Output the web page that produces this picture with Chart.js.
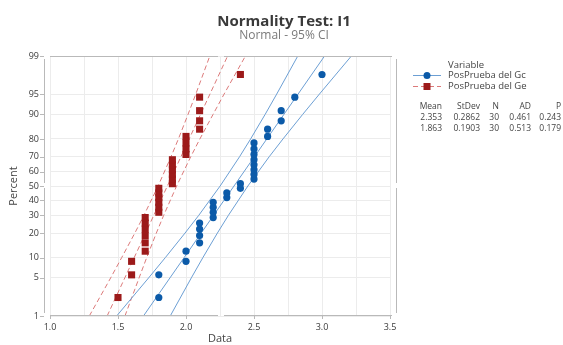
<!DOCTYPE html>
<html>
<head>
<meta charset="utf-8">
<script src="https://cdn.jsdelivr.net/npm/chart.js@4.4.1/dist/chart.umd.min.js"></script>
<style>
  html, body { margin: 0; padding: 0; background: #fff; }
  #wrap { width: 563px; height: 345px; position: relative; }
</style>
</head>
<body>
<div id="wrap"><canvas id="chart"></canvas></div>
<script>
// plotting positions (median ranks, %) shared by both sorted samples
const plotPercent = [2.30, 5.59, 8.88, 12.17, 15.46, 18.75, 22.04, 25.33, 28.62, 31.91,
                     35.20, 38.49, 41.78, 45.07, 48.36, 51.64, 54.93, 58.22, 61.51, 64.80,
                     68.09, 71.38, 74.67, 77.96, 81.25, 84.54, 87.83, 91.12, 94.41, 97.70];
const gcValues = [1.8, 1.8, 2.0, 2.0, 2.1, 2.1, 2.1, 2.1, 2.2, 2.2, 2.2, 2.2, 2.3, 2.3, 2.4,
                  2.4, 2.5, 2.5, 2.5, 2.5, 2.5, 2.5, 2.5, 2.5, 2.6, 2.6, 2.7, 2.7, 2.8, 3.0];
const geValues = [1.5, 1.6, 1.6, 1.7, 1.7, 1.7, 1.7, 1.7, 1.7, 1.8, 1.8, 1.8, 1.8, 1.8, 1.8,
                  1.9, 1.9, 1.9, 1.9, 1.9, 1.9, 2.0, 2.0, 2.0, 2.0, 2.1, 2.1, 2.1, 2.1, 2.4];

// fitted line and 95% CI bands, read at these percent levels
const bandPercent = [1, 5, 10, 20, 30, 50, 70, 80, 90, 95, 99];
const gcFit   = [1.687, 1.882, 1.986, 2.112, 2.203, 2.353, 2.503, 2.594, 2.720, 2.824, 3.019];
const gcLower = [1.490, 1.725, 1.848, 1.993, 2.094, 2.251, 2.394, 2.475, 2.582, 2.667, 2.822];
const gcUpper = [1.884, 2.039, 2.124, 2.231, 2.312, 2.455, 2.612, 2.713, 2.858, 2.981, 3.216];
const geFit   = [1.420, 1.550, 1.619, 1.703, 1.763, 1.863, 1.963, 2.023, 2.107, 2.176, 2.306];
const geLower = [1.289, 1.446, 1.527, 1.624, 1.691, 1.795, 1.890, 1.944, 2.015, 2.072, 2.175];
const geUpper = [1.551, 1.655, 1.711, 1.782, 1.836, 1.931, 2.035, 2.102, 2.199, 2.280, 2.437];

const seriesNames = ['PosPrueba del Gc', 'PosPrueba del Ge'];
const percentTicks = [1, 5, 10, 20, 30, 40, 50, 60, 70, 80, 90, 95, 99];
const xLabelValues = [1.0, 1.5, 2.0, 2.5, 3.0, 3.5];

const statHeaders = ['Mean', 'StDev', 'N', 'AD', 'P'];
const statMean  = ['2.353', '1.863'];
const statStDev = ['0.2862', '0.1903'];
const statN     = ['30', '30'];
const statAD    = ['0.461', '0.513'];
const statP     = ['0.243', '0.179'];

const BLUE = '#0b5aa8';
const BLUE_LINE = '#6c9fd4';
const RED = '#9c1a1a';
const RED_LINE = '#dc7a7a';
const FONT = "'Open Sans', sans-serif";

// inverse normal CDF (Acklam)
function probit(p) {
    const a = [-39.69683028665376, 220.9460984245205, -275.9285104469687, 138.3577518672690, -30.66479806614716, 2.506628277459239];
    const b = [-54.47609879822406, 161.5858368580409, -155.6989798598866, 66.80131188771972, -13.28068155288572];
    const c = [-0.007784894002430293, -0.3223964580411365, -2.400758277161838, -2.549732539343734, 4.374664141464968, 2.938163982698783];
    const d = [0.007784695709041462, 0.3224671290700398, 2.445134137142996, 3.754408661907416];
    const pl = 0.02425;
    if (p < pl) {
        const q = Math.sqrt(-2 * Math.log(p));
        return (((((c[0]*q+c[1])*q+c[2])*q+c[3])*q+c[4])*q+c[5]) / ((((d[0]*q+d[1])*q+d[2])*q+d[3])*q+1);
    }
    if (p > 1 - pl) {
        const q = Math.sqrt(-2 * Math.log(1 - p));
        return -(((((c[0]*q+c[1])*q+c[2])*q+c[3])*q+c[4])*q+c[5]) / ((((d[0]*q+d[1])*q+d[2])*q+d[3])*q+1);
    }
    const q = p - 0.5, r = q * q;
    return (((((a[0]*r+a[1])*r+a[2])*r+a[3])*r+a[4])*r+a[5])*q / (((((b[0]*r+b[1])*r+b[2])*r+b[3])*r+b[4])*r+1);
}

function normCdf(z) {
    const t = 1 / (1 + 0.2316419 * Math.abs(z));
    const poly = t * (0.319381530 + t * (-0.356563782 + t * (1.781477937 + t * (-1.821255978 + t * 1.330274429))));
    const v = 1 - Math.exp(-z * z / 2) / Math.sqrt(2 * Math.PI) * poly;
    return z >= 0 ? v : 1 - v;
}

// normal probability axis (values in percent)
class ProbabilityScale extends Chart.LinearScale {
    determineDataLimits() {
        this.min = this.options.min;
        this.max = this.options.max;
    }
    buildTicks() {
        return percentTicks.map(v => ({ value: v }));
    }
    getPixelForValue(value) {
        const lo = probit(this.min / 100), hi = probit(this.max / 100);
        return this.getPixelForDecimal((probit(value / 100) - lo) / (hi - lo));
    }
    getValueForPixel(pixel) {
        const lo = probit(this.min / 100), hi = probit(this.max / 100);
        return 100 * normCdf(lo + this.getDecimalForPixel(pixel) * (hi - lo));
    }
}
ProbabilityScale.id = 'probability';
ProbabilityScale.defaults = {};
Chart.register(ProbabilityScale);

const toPoints = (xs, ps) => xs.map((v, i) => ({ x: v, y: ps[i] }));

function lineSet(values, color, dash) {
    return {
        data: toPoints(values, bandPercent),
        showLine: true,
        borderColor: color,
        borderWidth: 1,
        borderDash: dash,
        pointRadius: 0,
        fill: false
    };
}

const decorations = {
    id: 'decorations',
    afterDraw(chart) {
        const { ctx, chartArea: a, scales: { x, y } } = chart;
        ctx.save();

        // frame with the small seams seen in the original
        ctx.strokeStyle = '#b9b9b9';
        ctx.lineWidth = 1;
        const gx = x.getPixelForValue(2.25);
        const gy = y.getPixelForValue(50);
        const seg = (x1, y1, x2, y2) => { ctx.beginPath(); ctx.moveTo(x1, y1); ctx.lineTo(x2, y2); ctx.stroke(); };
        [a.top + 0.5, a.bottom - 0.5].forEach(yy => {
            seg(a.left, yy, gx - 2, yy);
            seg(gx + 4, yy, a.right + 2, yy);
        });
        [a.left - 5.5, a.right + 6.5].forEach(xx => {
            seg(xx, a.top + 3, xx, gy - 3);
            seg(xx, gy + 2, xx, a.bottom - 3);
        });
        percentTicks.forEach(p => {
            const py = Math.round(y.getPixelForValue(p)) + 0.5;
            seg(a.left - 10, py, a.left - 6, py);
        });
        xLabelValues.forEach(v => {
            const px = Math.round(x.getPixelForValue(v)) + 0.5;
            seg(px, a.bottom, px, a.bottom + 3);
        });

        // titles
        ctx.textBaseline = 'middle';
        ctx.textAlign = 'center';
        ctx.fillStyle = '#3a3a3a';
        ctx.font = 'bold 15px ' + FONT;
        ctx.fillText('Normality Test: I1', 284, 22);
        ctx.fillStyle = '#7a7a7a';
        ctx.font = '12px ' + FONT;
        ctx.fillText('Normal - 95% CI', 284, 36);

        ctx.fillStyle = '#444';
        ctx.font = '11px ' + FONT;
        ctx.fillText('Data', (a.left + a.right) / 2, 339);
        ctx.save();
        ctx.translate(14, (a.top + a.bottom) / 2);
        ctx.rotate(-Math.PI / 2);
        ctx.fillText('Percent', 0, 0);
        ctx.restore();

        // legend
        ctx.textAlign = 'left';
        ctx.font = '9.5px ' + FONT;
        ctx.fillStyle = '#444';
        ctx.fillText('Variable', 448, 65);
        const rows = [75, 86];
        rows.forEach((ry, i) => {
            ctx.strokeStyle = i === 0 ? BLUE_LINE : RED_LINE;
            ctx.setLineDash(i === 0 ? [] : [5, 3]);
            seg(413, ry + 0.5, 441, ry + 0.5);
            ctx.setLineDash([]);
            ctx.fillStyle = i === 0 ? BLUE : RED;
            ctx.beginPath();
            if (i === 0) ctx.arc(427, ry + 0.5, 3.5, 0, Math.PI * 2);
            else ctx.rect(423.5, ry - 3, 7, 7);
            ctx.fill();
            ctx.fillStyle = '#444';
            ctx.fillText(seriesNames[i], 448, ry);
        });

        // statistics table
        ctx.textAlign = 'right';
        ctx.font = '8.5px ' + FONT;
        const cols = [442, 480, 499, 531, 561];
        statHeaders.forEach((h, j) => ctx.fillText(h, cols[j], 107));
        [0, 1].forEach(i => {
            const vals = [statMean[i], statStDev[i], statN[i], statAD[i], statP[i]];
            vals.forEach((v, j) => ctx.fillText(v, cols[j], 118 + i * 10.5));
        });
        ctx.restore();
    }
};

Chart.defaults.font.family = FONT;

new Chart(document.getElementById('chart'), {
    type: 'scatter',
    data: {
        datasets: [
            {
                label: seriesNames[0],
                data: toPoints(gcValues, plotPercent),
                pointStyle: 'circle',
                pointRadius: 3.6,
                backgroundColor: BLUE,
                borderWidth: 0
            },
            {
                label: seriesNames[1],
                data: toPoints(geValues, plotPercent),
                pointStyle: 'rect',
                pointRadius: 5,
                backgroundColor: RED,
                borderWidth: 0
            },
            lineSet(gcFit, BLUE_LINE, []),
            lineSet(gcLower, BLUE_LINE, []),
            lineSet(gcUpper, BLUE_LINE, []),
            lineSet(geFit, RED_LINE, [5, 3]),
            lineSet(geLower, RED_LINE, [5, 3]),
            lineSet(geUpper, RED_LINE, [5, 3])
        ]
    },
    options: {
        responsive: true,
        maintainAspectRatio: false,
        animation: false,
        events: [],
        layout: { padding: { top: 56, right: 173, bottom: 0, left: 0 } },
        plugins: {
            legend: { display: false },
            title: { display: false },
            tooltip: { enabled: false }
        },
        scales: {
            x: {
                type: 'linear',
                min: 1,
                max: 3.5,
                afterFit: s => { s.height = 29; },
                border: { display: false },
                grid: { color: '#ececec', drawTicks: false },
                ticks: {
                    stepSize: 0.25,
                    autoSkip: false,
                    maxRotation: 0,
                    padding: 6,
                    color: '#3a3a3a',
                    font: { size: 9 },
                    callback: v => xLabelValues.some(l => Math.abs(l - v) < 1e-6) ? Number(v).toFixed(1) : ''
                }
            },
            y: {
                type: 'probability',
                min: 1,
                max: 99,
                afterFit: s => { s.width = 50; },
                border: { display: false },
                grid: { color: '#ececec', drawTicks: false },
                ticks: {
                    autoSkip: false,
                    padding: 11,
                    color: '#3a3a3a',
                    font: { size: 9 },
                    callback: v => String(v)
                }
            }
        }
    },
    plugins: [decorations]
});
</script>
</body>
</html>
